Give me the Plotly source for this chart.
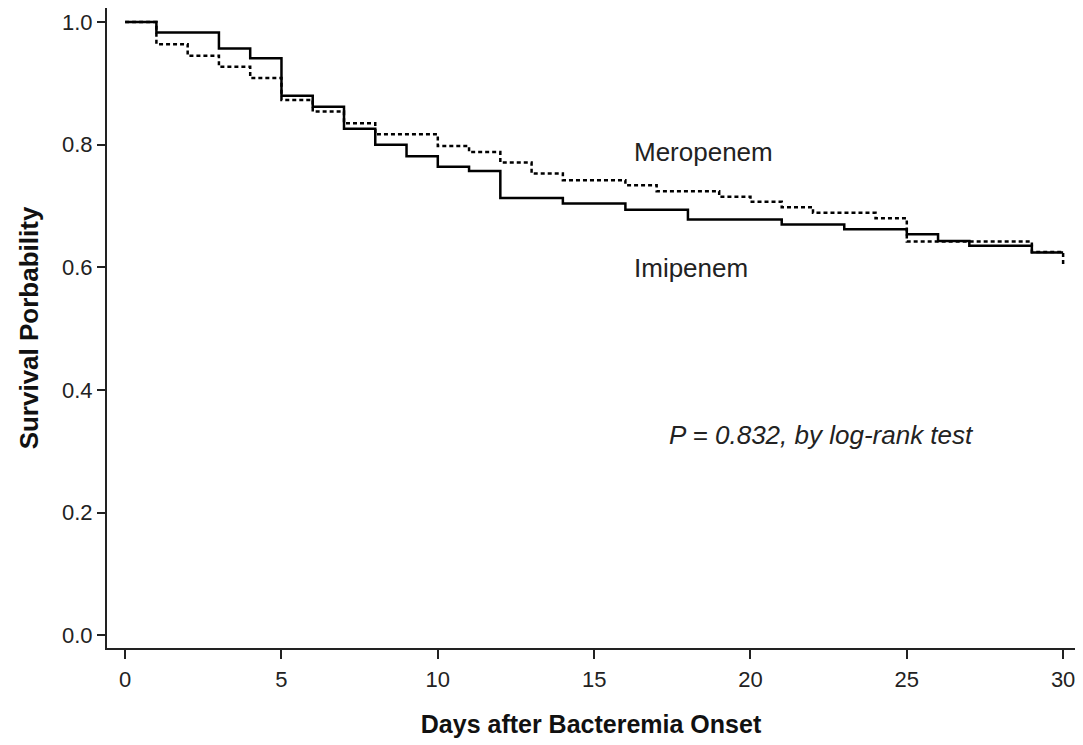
import plotly.graph_objects as go

# Kaplan-Meier step data
imipenem_days = [0, 1, 3, 4, 5, 6, 7, 8, 9, 10, 11, 12, 14, 16, 18, 21, 23, 25, 26, 27, 29, 30]
imipenem_surv = [1.0, 0.983, 0.957, 0.941, 0.880, 0.862, 0.826, 0.800, 0.781, 0.764, 0.757,
                 0.713, 0.704, 0.694, 0.678, 0.670, 0.662, 0.654, 0.643, 0.635, 0.624, 0.624]

meropenem_days = [0, 1, 2, 3, 4, 5, 6, 7, 8, 10, 11, 12, 13, 14, 16, 17, 19, 20, 21, 22, 24, 25, 29, 30]
meropenem_surv = [1.0, 0.964, 0.945, 0.927, 0.909, 0.873, 0.854, 0.835, 0.817, 0.798, 0.788,
                  0.771, 0.753, 0.742, 0.734, 0.724, 0.715, 0.707, 0.698, 0.689, 0.680,
                  0.642, 0.625, 0.601]

x_ticks = [0, 5, 10, 15, 20, 25, 30]
y_ticks = [0.0, 0.2, 0.4, 0.6, 0.8, 1.0]
y_tick_labels = ["0.0", "0.2", "0.4", "0.6", "0.8", "1.0"]

FONT = "Liberation Sans, Arial, sans-serif"

fig = go.Figure()
fig.add_trace(go.Scatter(
    x=meropenem_days, y=meropenem_surv, mode="lines", line_shape="hv",
    line=dict(color="black", width=2.5, dash="4px,3px"), name="Meropenem",
    showlegend=False,
))
fig.add_trace(go.Scatter(
    x=imipenem_days, y=imipenem_surv, mode="lines", line_shape="hv",
    line=dict(color="black", width=2.5), name="Imipenem",
    showlegend=False,
))

fig.add_annotation(x=16.2, y=0.788, text="Meropenem", showarrow=False,
                   xanchor="left", yanchor="middle",
                   font=dict(family=FONT, size=26, color="#222"))
fig.add_annotation(x=16.2, y=0.599, text="Imipenem", showarrow=False,
                   xanchor="left", yanchor="middle",
                   font=dict(family=FONT, size=26, color="#222"))
fig.add_annotation(x=17.33, y=0.326, text="<i>P = 0.832, by log-rank test</i>", showarrow=False,
                   xanchor="left", yanchor="middle",
                   font=dict(family=FONT, size=26, color="#222"))

fig.update_layout(
    width=1075, height=737,
    margin=dict(l=99, r=8, t=0, b=97),
    paper_bgcolor="white", plot_bgcolor="white",
    font=dict(family=FONT, color="#222"),
    xaxis=dict(
        range=[-0.58, 30.38], tickmode="array", tickvals=x_ticks,
        showgrid=False, zeroline=False, showline=True, linecolor="#222", linewidth=2,
        ticks="outside", ticklen=9, tickwidth=1.5, tickcolor="#222",
        ticklabelstandoff=2,
        tickfont=dict(family=FONT, size=22, color="#222"),
        title=dict(text="<b>Days after Bacteremia Onset</b>", font=dict(family=FONT, size=25, color="#111"),
                   standoff=24),
    ),
    yaxis=dict(
        range=[-0.021, 1.023], tickmode="array", tickvals=y_ticks, ticktext=y_tick_labels,
        showgrid=False, zeroline=False, showline=True, linecolor="#222", linewidth=2,
        ticks="outside", ticklen=8, tickwidth=1.5, tickcolor="#222",
        tickfont=dict(family=FONT, size=22, color="#222"),
        title=dict(text="<b>Survival Porbability</b>", font=dict(family=FONT, size=26, color="#111"),
                   standoff=16),
    ),
)

fig.write_html("out.html")
